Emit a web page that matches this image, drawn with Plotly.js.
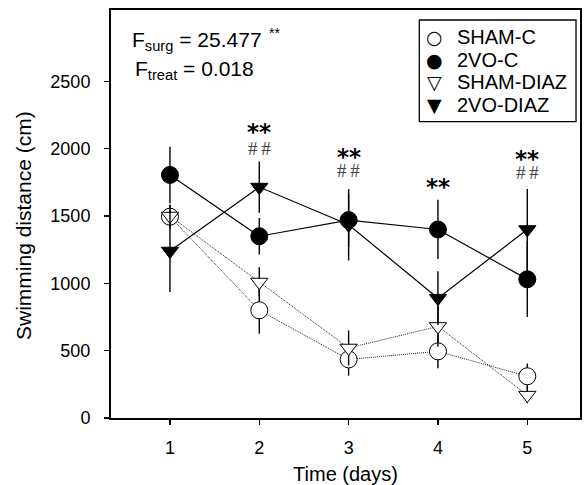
<!DOCTYPE html>
<html>
<head>
<meta charset="utf-8">
<script src="https://cdn.plot.ly/plotly-3.0.1.min.js"></script>
<style>html,body{margin:0;padding:0;background:#fff;}#chart{width:586px;height:485px;}</style>
</head>
<body>
<div id="chart"></div>
<script>
const days = [1, 2, 3, 4, 5];
const tickVals = [1, 2, 3, 4, 5];
const tickText = ['1', '2', '3', '4', '5'];
const yTickVals = [0, 500, 1000, 1500, 2000, 2500];
const seriesNames = ['SHAM-C', '2VO-C', 'SHAM-DIAZ', '2VO-DIAZ'];
const legendSymbols = ['\u25CB', '\u25CF', '\u25BD', '\u25BC'];
const shamC = [1495, 800, 435, 495, 310];
const shamCErr = [90, 175, 120, 125, 95];
const vo2C = [1805, 1350, 1470, 1400, 1030];
const vo2CErr = [210, 135, 200, 220, 280];
const shamDiaz = [1500, 1010, 520, 680, 170];
const shamDiazErr = [80, 110, 130, 150, 60];
const vo2Diaz = [1240, 1715, 1435, 890, 1400];
const vo2DiazErr = [305, 190, 265, 200, 300];
const starDays = [2, 3, 4, 5];
const starLabels = ['**', '**', '**', '**'];
const hashDays = [2, 3, 5];
const hashLabels = ['#\u2009#', '#\u2009#', '#\u2009#'];

const font = 'Liberation Sans, Arial, sans-serif';

function lineTrace(y, dash, color, width) {
  return {x: days, y: y, mode: 'lines', showlegend: false, hoverinfo: 'skip',
    line: {color: color, width: width, dash: dash}};
}
function markerTrace(name, y, err, symbol, fill) {
  return {x: days, y: y, name: name, mode: 'markers', type: 'scatter', showlegend: false,
    error_y: {type: 'data', array: err, visible: true, color: '#000', thickness: 1.4, width: 0},
    marker: {symbol: symbol, size: symbol.indexOf('triangle') === 0 ? 15 : 17, color: fill,
      line: {color: '#000', width: 1}}};
}

const data = [
  lineTrace(shamC, '1px,1px', '#222', 1),
  lineTrace(shamDiaz, '1px,1px', '#222', 1),
  lineTrace(vo2C, 'solid', '#000', 1.2),
  lineTrace(vo2Diaz, 'solid', '#000', 1.2),
  markerTrace(seriesNames[0], shamC, shamCErr, 'circle', '#fff'),
  markerTrace(seriesNames[1], vo2C, vo2CErr, 'circle', '#000'),
  markerTrace(seriesNames[2], shamDiaz, shamDiazErr, 'triangle-down', '#fff'),
  markerTrace(seriesNames[3], vo2Diaz, vo2DiazErr, 'triangle-down', '#000')
];

const starY = {2: 2125, 3: 1940, 4: 1715, 5: 1925};
const hashY = {2: 2005, 3: 1837, 5: 1820};
const annotations = [];
starDays.forEach((d, i) => annotations.push({x: d, y: starY[d], xref: 'x', yref: 'y', text: starLabels[i],
  showarrow: false, font: {family: 'DejaVu Sans', size: 23, color: '#000', weight: 'bold'}}));
hashDays.forEach((d, i) => annotations.push({x: d, y: hashY[d], xref: 'x', yref: 'y', text: hashLabels[i],
  showarrow: false, font: {family: 'Liberation Serif', size: 19, color: '#444'}}));
annotations.push({x: 0.041, y: 0.925, xref: 'paper', yref: 'paper', xanchor: 'left', yanchor: 'middle',
  text: 'F<sub>surg</sub> = 25.477', showarrow: false, font: {family: font, size: 21, color: '#000'}});
annotations.push({x: 0.3326, y: 0.944, xref: 'paper', yref: 'paper', xanchor: 'left', yanchor: 'middle',
  text: '**', showarrow: false, font: {family: font, size: 14, color: '#000'}});
annotations.push({x: 0.047, y: 0.853, xref: 'paper', yref: 'paper', xanchor: 'left', yanchor: 'middle',
  text: 'F<sub>treat</sub> = 0.018', showarrow: false, font: {family: font, size: 21, color: '#000'}});
annotations.push({x: -0.1855, y: 0.4706, xref: 'paper', yref: 'paper', xanchor: 'center', yanchor: 'middle',
  textangle: -90, text: 'Swimming distance (cm)', showarrow: false, font: {family: font, size: 21, color: '#000'}});

// legend (drawn as a box with symbol glyphs and labels)
const legendY = [0.9331, 0.8775, 0.8243, 0.7672];
seriesNames.forEach((n, i) => {
  annotations.push({x: 0.6887, y: legendY[i], xref: 'paper', yref: 'paper', xanchor: 'center', yanchor: 'middle',
    text: legendSymbols[i], showarrow: false, font: {family: 'DejaVu Sans', size: 19, color: '#000'}});
  annotations.push({x: 0.7335, y: legendY[i], xref: 'paper', yref: 'paper', xanchor: 'left', yanchor: 'middle',
    text: n, showarrow: false, font: {family: font, size: 20, color: '#000'}});
});
const shapes = [{type: 'rect', xref: 'paper', yref: 'paper', x0: 0.6574, x1: 0.9915, y0: 0.7262, y1: 0.9755,
  line: {color: '#000', width: 1.3}, fillcolor: 'rgba(0,0,0,0)'}];

const layout = {
  width: 586, height: 485,
  margin: {l: 111, r: 6, t: 10, b: 67},
  paper_bgcolor: '#fff', plot_bgcolor: '#fff',
  showlegend: false,
  xaxis: {range: [0.34, 5.59], tickvals: tickVals, ticktext: tickText, ticks: 'outside', ticklen: 5,
    tickwidth: 1.3, tickcolor: '#000', showline: true, linecolor: '#000', linewidth: 2, mirror: true,
    showgrid: false, zeroline: false, ticklabelstandoff: 7,
    tickfont: {family: font, size: 18, color: '#000'},
    title: {text: 'Time (days)', font: {family: font, size: 20, color: '#000'}, standoff: 10}},
  yaxis: {range: [0, 3030], tickvals: yTickVals, ticks: 'outside', ticklen: 5,
    tickwidth: 1.3, tickcolor: '#000', showline: true, linecolor: '#000', linewidth: 2, mirror: true,
    showgrid: false, zeroline: false, ticklabelstandoff: 10,
    tickfont: {family: font, size: 18, color: '#000'}},
  annotations: annotations,
  shapes: shapes
};

Plotly.newPlot('chart', data, layout, {displayModeBar: false, staticPlot: true});
</script>
</body>
</html>
